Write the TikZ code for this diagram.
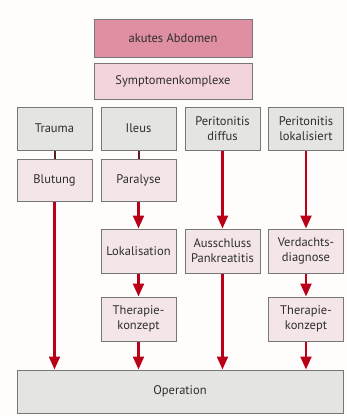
\documentclass[tikz,border=0pt]{standalone}
\usepackage{fontspec}
\setmainfont{PT Sans}
\usetikzlibrary{arrows.meta}
\definecolor{hintergrund}{HTML}{FFFDFB}
\definecolor{abdomenrosa}{HTML}{E08FA2}
\definecolor{komplexrosa}{HTML}{F4D4DC}
\definecolor{boxgrau}{HTML}{E4E4E2}
\definecolor{boxrosa}{HTML}{F4E6E8}
\definecolor{boxrand}{HTML}{777777}
\definecolor{pfeilrot}{HTML}{BA0019}
\definecolor{stegdunkel}{HTML}{5A1E22}
\definecolor{schrift}{HTML}{2E2E2E}

\begin{document}
\begin{tikzpicture}[x=1pt,y=-1pt,
	box/.style={draw=boxrand, line width=1pt, minimum width=75pt, minimum height=43pt,
		inner sep=1pt, align=center, text=schrift, font=\fontsize{12.5}{15}\selectfont},
	grau/.style={box, fill=boxgrau},
	rosa/.style={box, fill=boxrosa},
	pfeil/.style={draw=pfeilrot, line width=2.2pt, -{Triangle[width=11pt,length=13pt]}},
	steg/.style={draw=stegdunkel, line width=2pt}]
		%%%%% START %%%%%
		\fill[hintergrund] (0, 0) rectangle (347, 416);
		
		\node[box, fill=abdomenrosa, minimum width=158pt, minimum height=38pt] (abdomen) at (173, 38) {akutes Abdomen};
		\node[box, fill=komplexrosa, minimum width=158pt, minimum height=36pt] (komplexe) at (173, 81) {Symptomenkomplexe};
		
		\node[grau] (trauma) at (54.5, 128.5) {Trauma};
		\node[grau] (ileus) at (138.5, 128.5) {Ileus};
		\node[grau] (diffus) at (222.5, 128.5) {Peritonitis\\diffus};
		\node[grau] (lokal) at (306, 128.5) {Peritonitis\\lokalisiert};
		
		\node[rosa, minimum height=42pt] (blutung) at (54.5, 180) {Blutung};
		\node[rosa, minimum height=42pt] (paralyse) at (138.5, 180) {Paralyse};
		
		\node[rosa, minimum height=44pt] (lokalisation) at (138.5, 251) {Lokalisation};
		\node[rosa, minimum height=44pt] (ausschluss) at (222.5, 251) {Ausschluss\\Pankreatitis};
		\node[rosa, minimum height=44pt] (verdacht) at (306, 251) {Verdachts-\\diagnose};
		
		\node[rosa, minimum height=44pt] (therapieA) at (138.5, 319) {Therapie-\\konzept};
		\node[rosa, minimum height=44pt] (therapieB) at (306, 319) {Therapie-\\konzept};
		
		\node[grau, minimum width=326pt] (operation) at (180, 391.5) {Operation};
		
		\draw[steg] (trauma) -- (blutung);
		\draw[steg] (ileus) -- (paralyse);
		
		\draw[pfeil] (blutung.south) -- (blutung.south |- operation.north);
		\draw[pfeil] (paralyse) -- (lokalisation);
		\draw[pfeil] (lokalisation) -- (therapieA);
		\draw[pfeil] (therapieA.south) -- (therapieA.south |- operation.north);
		\draw[pfeil] (diffus) -- (ausschluss);
		\draw[pfeil] (ausschluss.south) -- (ausschluss.south |- operation.north);
		\draw[pfeil] (lokal) -- (verdacht);
		\draw[pfeil] (verdacht) -- (therapieB);
		\draw[pfeil] (therapieB.south) -- (therapieB.south |- operation.north);
		%%%%% END %%%%%
\end{tikzpicture}
\end{document}
